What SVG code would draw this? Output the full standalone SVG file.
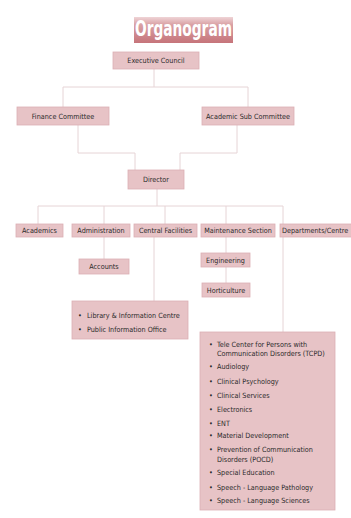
<svg xmlns="http://www.w3.org/2000/svg" width="351" height="518" viewBox="0 0 351 518">
<defs>
<linearGradient id="tg" x1="0" y1="0" x2="0" y2="1">
<stop offset="0" stop-color="#efd4d6"/>
<stop offset="0.3" stop-color="#d9a0a4"/>
<stop offset="1" stop-color="#c6747a"/>
</linearGradient>
</defs>
<style>
.box{fill:#e7c3c6;stroke:#dcb0b4;stroke-width:0.8}
.t{font-family:"DejaVu Sans Condensed","DejaVu Sans",sans-serif;font-size:7.2px;fill:#2a2a2a}
.c{text-anchor:middle}
.ln{fill:none;stroke:#e6d4d6;stroke-width:1}
.title{font-family:"DejaVu Sans Condensed","DejaVu Sans",sans-serif;font-weight:bold;font-size:21px;fill:#ffffff}
</style>
<rect width="351" height="518" fill="#ffffff"/>
<g id="title">
<rect x="134" y="17" width="99" height="26" fill="url(#tg)"/>
<text class="title" x="135" y="36" textLength="97" lengthAdjust="spacingAndGlyphs">Organogram</text>
</g>
<g id="connectors">
<path class="ln" d="M154,69V87M63,87H248M63,87V107M248,87V107"/>
<path class="ln" d="M78,125V153H135V170M237,125V153H180V170"/>
<path class="ln" d="M157,189V206M38,206H283M38,206V224M104,206V224M165,206V224M226,206V224M283,206V224"/>
<path class="ln" d="M104,237V259M154,237V301M226,237V253M226,267V283M283,237V332"/>
</g>
<g id="executive-council">
<rect class="box" x="113" y="52" width="86" height="17"/>
<text class="t c" x="156" y="63">Executive Council</text>
</g>
<g id="finance-committee">
<rect class="box" x="17" y="107" width="92" height="18"/>
<text class="t c" x="63" y="118.5">Finance Committee</text>
</g>
<g id="academic-sub-committee">
<rect class="box" x="202" y="107" width="92" height="18"/>
<text class="t c" x="248" y="118.5">Academic Sub Committee</text>
</g>
<g id="director">
<rect class="box" x="128" y="170" width="56" height="19"/>
<text class="t c" x="156" y="182">Director</text>
</g>
<g id="academics">
<rect class="box" x="16" y="224" width="47" height="13"/>
<text class="t c" x="39.5" y="233">Academics</text>
</g>
<g id="administration">
<rect class="box" x="72" y="224" width="58" height="13"/>
<text class="t c" x="101" y="233">Administration</text>
</g>
<g id="central-facilities">
<rect class="box" x="134" y="224" width="63" height="13"/>
<text class="t c" x="165.5" y="233">Central Facilities</text>
</g>
<g id="maintenance-section">
<rect class="box" x="201" y="224" width="74" height="13"/>
<text class="t c" x="238" y="233">Maintenance Section</text>
</g>
<g id="departments-centre">
<rect class="box" x="280" y="224" width="72" height="13"/>
<text class="t" x="282" y="233">Departments/Centre</text>
</g>
<g id="accounts">
<rect class="box" x="79" y="259" width="50" height="15"/>
<text class="t c" x="104" y="269">Accounts</text>
</g>
<g id="engineering">
<rect class="box" x="201" y="253" width="49" height="14"/>
<text class="t c" x="225.5" y="262.5">Engineering</text>
</g>
<g id="horticulture">
<rect class="box" x="202" y="283" width="48" height="14"/>
<text class="t c" x="226" y="292.5">Horticulture</text>
</g>
<g id="central-facilities-list">
<rect class="box" x="72" y="301" width="116" height="38"/>
<text class="t" x="78" y="317.5">•</text>
<text class="t" x="87" y="317.5">Library &amp; Information Centre</text>
<text class="t" x="78" y="331.5">•</text>
<text class="t" x="87" y="331.5">Public Information Office</text>
</g>
<g id="departments-list">
<rect class="box" x="200" y="332" width="135" height="178"/>
<g class="t">
<text x="209" y="346.5">•</text><text x="217" y="346.5">Tele Center for Persons with</text>
<text x="217" y="355.5">Communication  Disorders (TCPD)</text>
<text x="209" y="368.5">•</text><text x="217" y="368.5">Audiology</text>
<text x="209" y="383.5">•</text><text x="217" y="383.5">Clinical Psychology</text>
<text x="209" y="397.5">•</text><text x="217" y="397.5">Clinical Services</text>
<text x="209" y="411.5">•</text><text x="217" y="411.5">Electronics</text>
<text x="209" y="425.5">•</text><text x="217" y="425.5">ENT</text>
<text x="209" y="437.5">•</text><text x="217" y="437.5">Material Development</text>
<text x="209" y="451.5">•</text><text x="217" y="451.5">Prevention of Communication</text>
<text x="217" y="461.5">Disorders (POCD)</text>
<text x="209" y="474.5">•</text><text x="217" y="474.5">Special Education</text>
<text x="209" y="489.5">•</text><text x="217" y="489.5">Speech - Language Pathology</text>
<text x="209" y="502.5">•</text><text x="217" y="502.5">Speech - Language Sciences</text>
</g>
</g>
</svg>
